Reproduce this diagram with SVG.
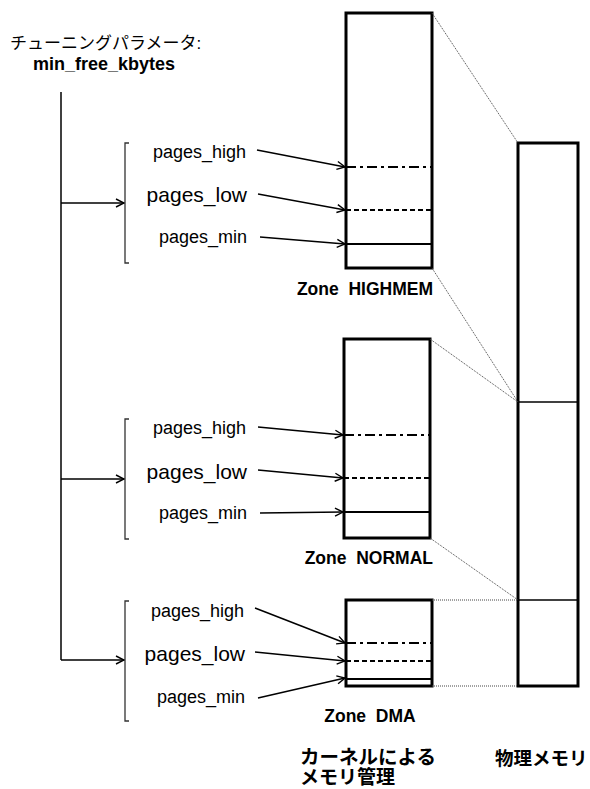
<svg xmlns="http://www.w3.org/2000/svg" width="590" height="789" viewBox="0 0 590 789">
<style>
.box{fill:#fff;stroke:#000;stroke-width:3}
.lbl{font-family:"Liberation Sans",Arial,sans-serif;fill:#000}
.jp{font-family:"Liberation Sans","Noto Sans CJK JP",sans-serif;fill:#000}
.b{font-weight:bold}
.zn{font-family:"Liberation Sans",Arial,sans-serif;font-weight:bold;font-size:17.5px;white-space:pre;fill:#000}
.ph{font-size:18px}
.pl{font-size:21px}
.ln{stroke:#000;stroke-width:1.5;fill:none}
.dd{stroke:#000;stroke-width:2;stroke-dasharray:10,4,3,4;fill:none}
.ds{stroke:#000;stroke-width:2;stroke-dasharray:5,3;fill:none}
.sl{stroke:#000;stroke-width:2;fill:none}
.dot{stroke:#444;stroke-width:1;stroke-dasharray:1,1;fill:none}
.br{stroke:#333;stroke-width:1.3;fill:none}
</style>
<defs>
<marker id="ah" markerWidth="10" markerHeight="10" refX="9" refY="5" orient="auto" markerUnits="userSpaceOnUse">
<path d="M1,1 L9,5 L1,9" fill="none" stroke="#000" stroke-width="1.4"/>
</marker>
</defs>

<g id="title">
<text class="jp" x="10" y="49" font-size="17">チューニングパラメータ:</text>
<text class="lbl b" x="104" y="70" font-size="18" text-anchor="middle">min_free_kbytes</text>
</g>

<g id="zone-highmem">
<rect class="box" x="346" y="13" width="86" height="255"/>
<line class="dd" x1="346" y1="167" x2="432" y2="167"/>
<line class="ds" x1="346" y1="210" x2="432" y2="210"/>
<line class="sl" x1="346" y1="244" x2="432" y2="244"/>
<text class="zn" x="433" y="295" text-anchor="end" xml:space="preserve">Zone  HIGHMEM</text>
</g>

<g id="zone-normal">
<rect class="box" x="344" y="339" width="86" height="199"/>
<line class="dd" x1="344" y1="435" x2="430" y2="435"/>
<line class="ds" x1="344" y1="478" x2="430" y2="478"/>
<line class="sl" x1="344" y1="512" x2="430" y2="512"/>
<text class="zn" x="433" y="564" text-anchor="end" xml:space="preserve">Zone  NORMAL</text>
</g>

<g id="zone-dma">
<rect class="box" x="346" y="600" width="86" height="86"/>
<line class="dd" x1="346" y1="643" x2="432" y2="643"/>
<line class="ds" x1="346" y1="661" x2="432" y2="661"/>
<line class="sl" x1="346" y1="679" x2="432" y2="679"/>
<text class="zn" x="370" y="722" text-anchor="middle" xml:space="preserve">Zone  DMA</text>
</g>

<g id="physical-memory">
<rect class="box" x="518" y="143" width="60" height="543"/>
<line class="ln" x1="518" y1="402" x2="578" y2="402"/>
<line class="ln" x1="518" y1="600" x2="578" y2="600"/>
</g>

<g id="params-highmem">
<path class="br" d="M129,143 H125 V263 H129"/>
<text class="lbl ph" x="246" y="158" text-anchor="end">pages_high</text>
<text class="lbl pl" x="247" y="202" text-anchor="end">pages_low</text>
<text class="lbl ph" x="247" y="243" text-anchor="end">pages_min</text>
</g>

<g id="params-normal">
<path class="br" d="M129,419 H125 V539 H129"/>
<text class="lbl ph" x="246" y="434" text-anchor="end">pages_high</text>
<text class="lbl pl" x="247" y="479" text-anchor="end">pages_low</text>
<text class="lbl ph" x="247" y="519" text-anchor="end">pages_min</text>
</g>

<g id="params-dma">
<path class="br" d="M129,601 H125 V721 H129"/>
<text class="lbl ph" x="244" y="617" text-anchor="end">pages_high</text>
<text class="lbl pl" x="245" y="661" text-anchor="end">pages_low</text>
<text class="lbl ph" x="245" y="703" text-anchor="end">pages_min</text>
</g>

<g id="captions">
<text class="jp b" x="300" y="764" font-size="19.5">カーネルによる</text>
<text class="jp b" x="300" y="784" font-size="19">メモリ管理</text>
<text class="jp b" x="495" y="765" font-size="18.5">物理メモリ</text>
</g>

<g id="connectors">
<line class="ln" x1="61" y1="92" x2="61" y2="660"/>
<line class="ln" x1="61" y1="203" x2="124" y2="203" marker-end="url(#ah)"/>
<line class="ln" x1="61" y1="479" x2="124" y2="479" marker-end="url(#ah)"/>
<line class="ln" x1="61" y1="660" x2="124" y2="660" marker-end="url(#ah)"/>

<line class="ln" x1="257" y1="150" x2="345" y2="167" marker-end="url(#ah)"/>
<line class="ln" x1="258" y1="194" x2="345" y2="210" marker-end="url(#ah)"/>
<line class="ln" x1="260" y1="237" x2="345" y2="244" marker-end="url(#ah)"/>

<line class="ln" x1="258" y1="427" x2="343" y2="435" marker-end="url(#ah)"/>
<line class="ln" x1="258" y1="470" x2="343" y2="478" marker-end="url(#ah)"/>
<line class="ln" x1="260" y1="513" x2="343" y2="512" marker-end="url(#ah)"/>

<line class="ln" x1="255" y1="608" x2="345" y2="643" marker-end="url(#ah)"/>
<line class="ln" x1="255" y1="652" x2="345" y2="661" marker-end="url(#ah)"/>
<line class="ln" x1="258" y1="698" x2="345" y2="678" marker-end="url(#ah)"/>

<line class="dot" x1="432" y1="13" x2="518" y2="143"/>
<line class="dot" x1="432" y1="268" x2="518" y2="402"/>
<line class="dot" x1="430" y1="339" x2="518" y2="402"/>
<line class="dot" x1="430" y1="538" x2="518" y2="600"/>
<line class="dot" x1="432" y1="600" x2="518" y2="600"/>
<line class="dot" x1="432" y1="686" x2="518" y2="686"/>
</g>
</svg>
